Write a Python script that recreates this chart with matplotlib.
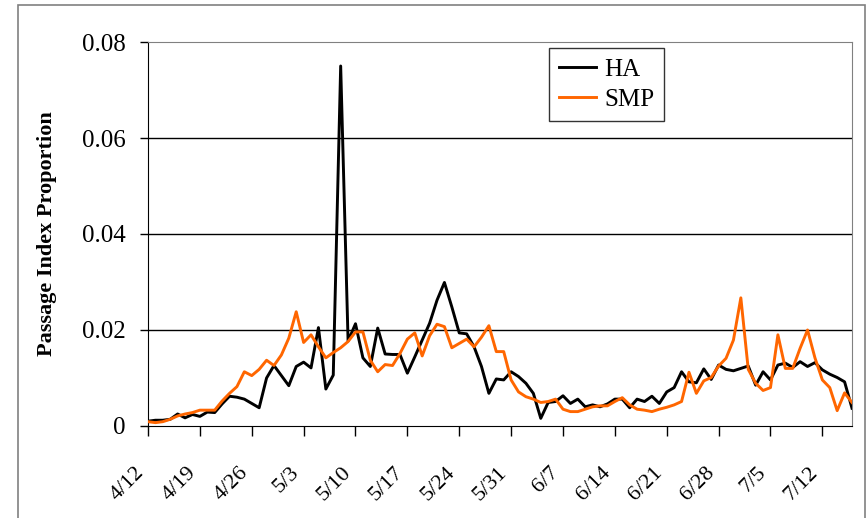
import matplotlib.pyplot as plt
from matplotlib.patches import Rectangle

# daily values starting 4/12
ha = [0.0010, 0.0012, 0.0012, 0.0014, 0.0025, 0.0017, 0.0024, 0.0020, 0.0029, 0.0028,
      0.0046, 0.0062, 0.0060, 0.0056, 0.0047, 0.0038, 0.0100, 0.0126, 0.0105, 0.0084,
      0.0124, 0.0133, 0.0121, 0.0205, 0.0077, 0.0106, 0.0750, 0.0177, 0.0213, 0.0142,
      0.0124, 0.0204, 0.0150, 0.0149, 0.0149, 0.0110, 0.0144, 0.0179, 0.0214, 0.0262,
      0.0299, 0.0248, 0.0194, 0.0192, 0.0165, 0.0124, 0.0068, 0.0098, 0.0096, 0.0113,
      0.0103, 0.0089, 0.0068, 0.0016, 0.0049, 0.0051, 0.0063, 0.0047, 0.0056, 0.0040,
      0.0044, 0.0040, 0.0046, 0.0056, 0.0056, 0.0038, 0.0056, 0.0051, 0.0062, 0.0047,
      0.0071, 0.0080, 0.0113, 0.0092, 0.0090, 0.0119, 0.0097, 0.0127, 0.0118, 0.0115,
      0.0120, 0.0125, 0.0085, 0.0113, 0.0096, 0.0127, 0.0131, 0.0122, 0.0134, 0.0124,
      0.0132, 0.0117, 0.0108, 0.0101, 0.0092, 0.0037]

smp = [0.0009, 0.0007, 0.0009, 0.0014, 0.0021, 0.0025, 0.0028, 0.0033, 0.0033, 0.0033,
       0.0052, 0.0068, 0.0082, 0.0113, 0.0105, 0.0118, 0.0137, 0.0126, 0.0148, 0.0183,
       0.0238, 0.0174, 0.0190, 0.0165, 0.0142, 0.0153, 0.0163, 0.0176, 0.0196, 0.0196,
       0.0137, 0.0113, 0.0128, 0.0126, 0.0151, 0.0181, 0.0194, 0.0146, 0.0188, 0.0212,
       0.0207, 0.0163, 0.0172, 0.0181, 0.0165, 0.0185, 0.0209, 0.0155, 0.0155, 0.0096,
       0.0071, 0.0061, 0.0056, 0.0049, 0.0051, 0.0056, 0.0035, 0.0030, 0.0030, 0.0035,
       0.0040, 0.0042, 0.0042, 0.0051, 0.0059, 0.0044, 0.0035, 0.0033, 0.0030, 0.0035,
       0.0039, 0.0044, 0.0051, 0.0112, 0.0068, 0.0094, 0.0101, 0.0125, 0.0141, 0.0179,
       0.0267, 0.0118, 0.0089, 0.0074, 0.0080, 0.0190, 0.0120, 0.0120, 0.0162, 0.0200,
       0.0142, 0.0096, 0.0080, 0.0032, 0.0069, 0.0049]

tick_labels = ['4/12', '4/19', '4/26', '5/3', '5/10', '5/17', '5/24', '5/31',
               '6/7', '6/14', '6/21', '6/28', '7/5', '7/12']

plt.rcParams['font.family'] = ['Liberation Serif', 'DejaVu Serif']

fig = plt.figure(figsize=(8.68, 5.18), dpi=100)
ax = fig.add_axes([148/868, 92/518, 704/868, 384/518])

# chart area border
fig.patches.append(Rectangle((18/868, -0.05), 847/868, (513/518) + 0.05,
                             transform=fig.transFigure, fill=False,
                             edgecolor='#808080', linewidth=1.2))

days = list(range(len(ha)))
for g in [0.02, 0.04, 0.06]:
    ax.axhline(g, color='black', linewidth=1, zorder=1)

ax.plot(days, ha, color='black', linewidth=2.1, label='HA', zorder=3)
ax.plot(days, smp, color='#FF6600', linewidth=2.1, label='SMP', zorder=3)

ax.set_xlim(0, 95)
ax.set_ylim(0, 0.08)
ax.set_yticks([0, 0.02, 0.04, 0.06, 0.08])
ax.set_yticklabels(['0', '0.02', '0.04', '0.06', '0.08'], fontsize=18)
ax.set_xticks(range(0, 7 * len(tick_labels), 7))
ax.set_xticklabels(tick_labels, rotation=45, ha='right', fontsize=16)
ax.tick_params(axis='x', direction='out', length=7, width=1, pad=20)
ax.tick_params(axis='y', direction='out', length=6, width=1, pad=10)

ax.spines['left'].set_color('black')
ax.spines['bottom'].set_color('black')
ax.spines['top'].set_color('#808080')
ax.spines['right'].set_color('#808080')
ax.set_ylabel('Passage Index Proportion', fontsize=16, fontweight='bold', labelpad=18)

leg = ax.legend(loc='upper left', bbox_to_anchor=(0.57, 0.984), borderaxespad=0,
                fontsize=18, frameon=True, fancybox=False, handlelength=1.45,
                handletextpad=0.35, borderpad=0.4, labelspacing=0.3)
leg.get_frame().set_edgecolor('black')
leg.get_frame().set_linewidth(1)

plt.savefig('out.png', dpi=100)
